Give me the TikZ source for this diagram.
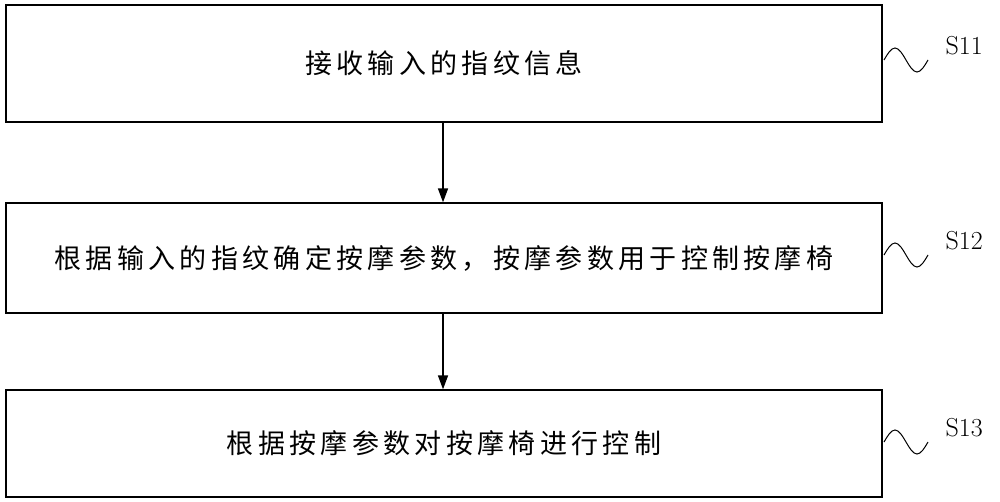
\documentclass[tikz,border=0pt]{standalone}
\usepackage{fontspec}
\newfontfamily\cjk[LetterSpace=16]{Noto Sans CJK SC}
\usetikzlibrary{arrows.meta}
\begin{document}
\begin{tikzpicture}[x=1pt,y=-1pt,
  stepbox/.style={draw,line width=1.3pt,minimum width=876pt,inner sep=0pt,font=\cjk\fontsize{27}{32}\selectfont},
  arr/.style={-{Triangle[length=14pt,width=10pt]},line width=1.5pt},
  wave/.style={line width=1pt},
  lab/.style={font=\fontsize{26}{30}\selectfont,anchor=west}]
\useasboundingbox (0,0) rectangle (1000,501);
\node[stepbox,minimum height=117pt] (b1) at (444,63.5) {接收输入的指纹信息};
\node[stepbox,minimum height=110pt] (b2) at (444,258) {根据输入的指纹确定按摩参数，按摩参数用于控制按摩椅};
\node[stepbox,minimum height=107pt] (b3) at (444,443.5) {根据按摩参数对按摩椅进行控制};
\draw[arr] (b1.south -| 443,0) -- (b2.north -| 443,0);
\draw[arr] (b2.south -| 443,0) -- (b3.north -| 443,0);
\foreach \b/\y/\t in {b1/60/S11,b2/255/S12,b3/442/S13}{
  \coordinate (w\b) at (884,\y);
  \draw[wave] (w\b) sin ++(11,-12) cos ++(11,12) sin ++(11,12) cos ++(11,-12);
  \node[lab] (l\b) at ([xshift=58pt,yshift=14pt]w\b) {\t};
}
\end{tikzpicture}
\end{document}
